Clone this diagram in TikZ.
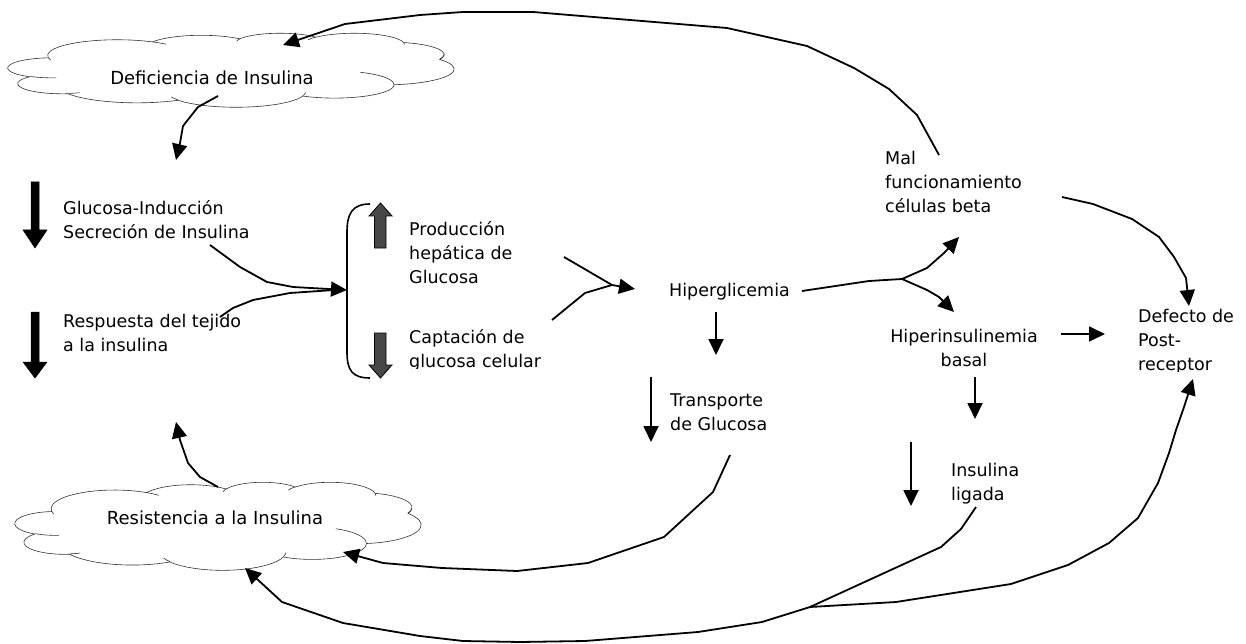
\documentclass[tikz,border=0pt]{standalone}
\usepackage{fontspec}
\setmainfont{DejaVu Sans}
\usetikzlibrary{arrows.meta}
% visual (DrawingML) angle -> parametric arc angles
\newcommand\cloudarcdef[4]{%
  \pgfmathparse{atan2(#1*sin(#3),#2*cos(#3))}\xdef\cAs{\pgfmathresult}%
  \pgfmathparse{atan2(#1*sin(#3+#4),#2*cos(#3+#4))}\xdef\cAe{\pgfmathresult}%
  \pgfmathparse{\cAe-\cAs}\xdef\cAd{\pgfmathresult}%
  \pgfmathparse{\cAd+360*(#4>0)*(\cAd<0)-360*(#4<0)*(\cAd>0)}\xdef\cAd{\pgfmathresult}%
}
\newcommand\carc[4]{\pgfextra{\cloudarcdef{#1}{#2}{#3}{#4}} arc[start angle=\cAs, delta angle=\cAd, x radius=#1, y radius=#2]}
\newcommand\wordcloudshape{%
  \draw[cloudline] (39.00,143.70)
    \carc{67.53}{91.90}{-190.49}{123.78}
    \carc{53.33}{72.67}{-144.10}{89.95}
    \carc{43.65}{59.45}{-145.81}{99.72}
    \carc{48.57}{65.95}{-130.99}{117.24}
    \carc{53.33}{72.73}{-78.71}{109.03}
    \carc{67.75}{92.20}{-46.27}{130.27}
    \carc{57.85}{78.67}{0.625}{114.03}
    \carc{67.52}{92.15}{22.45}{115.17}
    \carc{77.20}{105.43}{66.24}{75.71}
    \carc{43.60}{59.18}{-274.94}{146.74}
    \carc{43.45}{59.45}{-246.83}{152.52} -- cycle;
  \draw[cloudline] (46.93,261.77) \carc{43.45}{59.45}{86.742}{26.430};
  \draw[cloudline] (69.28,348.99) \carc{43.60}{59.18}{73.610}{11.447};
  \draw[cloudline] (164.78,390.90) \carc{67.52}{92.15}{137.624}{14.081};
  \draw[cloudline] (288.27,347.51) \carc{67.52}{92.15}{6.453}{15.998};
  \draw[cloudline] (341.29,229.54) \carc{57.85}{78.67}{-70.292}{70.917};
  \draw[cloudline] (417.98,153.54) \carc{53.33}{72.73}{30.318}{-27.752};
  \draw[cloudline] (383.24,54.26) \carc{48.57}{65.95}{-13.744}{14.853};
  \draw[cloudline] (290.78,39.52) \carc{48.57}{65.95}{-149.181}{18.196};
  \draw[cloudline] (221.41,47.20) \carc{43.65}{59.45}{-163.494}{17.685};
  \draw[cloudline] (140.00,51.92) \carc{67.53}{91.90}{-66.707}{12.319};
  \draw[cloudline] (41.27,157.89) \carc{67.53}{91.90}{157.654}{11.858};
}
\begin{document}
\begin{tikzpicture}[x=1pt,y=-1pt,
  txt/.style={inner sep=0pt, font=\fontsize{17.5}{24}\selectfont, align=left},
  cloudtxt/.style={inner sep=0pt, font=\fontsize{18}{24}\selectfont},
  cloudline/.style={draw=black!80, line width=0.6pt, line join=round},
  conn/.style={line width=1.8pt, line join=round, -{Triangle[length=16pt,width=15pt]}},
  plainln/.style={line width=1.8pt, line join=round},
  blk/.style={fill=black, draw=black, line width=0.5pt},
  gry/.style={fill=black!72, draw=black, line width=0.8pt},
  brk/.style={line width=1.6pt},
]
\useasboundingbox (0,0) rectangle (1246,644);

% clouds
\begin{scope}[shift={(8,33)}, x=446pt/432, y=-74pt/432]
\wordcloudshape
\end{scope}
\begin{scope}[shift={(15,482)}, x=406pt/432, y=-88pt/432]
\wordcloudshape
\end{scope}
\node[cloudtxt, anchor=base] (defic) at (212,85) {Deficiencia de Insulina};
\node[cloudtxt, anchor=base] (resist) at (215,524) {Resistencia a la Insulina};

% texts
\node[txt, anchor=north west] (glucind) at (63,200) {Glucosa-Inducción\\Secreción de Insulina};
\node[txt, anchor=north west] (resp) at (63,314) {Respuesta del tejido\\a la insulina};
\node[txt, anchor=north west] (prod) at (409,221) {Producción\\hepática de\\Glucosa};
\begin{scope}
\clip (400,300) rectangle (560,368);
\node[txt, anchor=north west] (capt) at (409,329) {Captación de\\glucosa celular};
\end{scope}
\node[txt, anchor=base west] (hiperg) at (669,296) {Hiperglicemia};
\node[txt, anchor=north west] (transp) at (670,394) {Transporte\\de Glucosa};
\node[txt, anchor=north west] (mal) at (885,151) {Mal\\funcionamiento\\células beta};
\node[txt, anchor=north, align=center] (hiperins) at (964,329) {Hiperinsulinemia\\basal};
\node[txt, anchor=north west] (insl) at (951,463) {Insulina\\ligada};
\begin{scope}
\clip (1130,290) rectangle (1246,371);
\node[txt, anchor=north west] (defect) at (1138,309) {Defecto de\\Post-\\receptor};
\end{scope}

% block arrows
\draw[blk] (31,182) -- (39,182) -- (39,230) -- (47,230) -- (35,248) -- (23,230) -- (31,230) -- cycle;
\draw[blk] (31,312) -- (39,312) -- (39,362) -- (47,362) -- (35,378) -- (23,362) -- (31,362) -- cycle;
\draw[gry] (374.5,248) -- (386,248) -- (386,216) -- (392,216) -- (380.5,203) -- (369,216) -- (374.5,216) -- cycle;
\draw[gry] (374.5,333) -- (386,333) -- (386,365) -- (392,365) -- (380.5,378) -- (369,365) -- (374.5,365) -- cycle;

% bracket
\draw[brk] (370,204) .. controls (352,204) and (347,214) .. (347,232) -- (347,352) .. controls (347,370) and (352,378) .. (370,378);

% coordinates for connector ends
\coordinate (malTop) at (939,155);
\coordinate (deficIn) at (283,45);
\coordinate (deficOut) at (218,96);
\coordinate (glucIn) at (176,160);
\coordinate (resistOut) at (218,487);
\coordinate (respIn) at (176,422);
\coordinate (glucOut) at (210,245);
\coordinate (respOut) at (220,317);
\coordinate (brkIn) at (347,290);
\coordinate (prodOut) at (564,257);
\coordinate (captOut) at (552,320);
\coordinate (hipergIn) at (635,289);
\coordinate (hipergOut) at (802,291);
\coordinate (fork) at (902,279);
\coordinate (malIn) at (959,237);
\coordinate (hiperinsIn) at (954,312);
\coordinate (malOut) at (1062,197);
\coordinate (defectTop) at (1189,306);
\coordinate (transpOut) at (730,455);
\coordinate (resistIn1) at (343,552);
\coordinate (inslOut) at (976,507);
\coordinate (join) at (810,607);
\coordinate (resistIn2) at (245,568);
\coordinate (defectBot) at (1193,379);

% connectors
\draw[conn] (malTop) -- (917,115) -- (889,89) -- (854,68) -- (807,46) -- (727,28) -- (533,12) -- (463,12) -- (420,15) -- (345,24) -- (deficIn);
\draw[conn] (deficOut) -- (198,107) -- (183,126) -- (180,143) -- (glucIn);
\draw[conn] (resistOut) -- (200,477) -- (188,463) -- (180,440) -- (respIn);
\draw[conn] (glucOut) -- (240,267) -- (267,282) -- (293,287) -- (brkIn);
\draw[plainln] (respOut) -- (233,308) -- (253,300) -- (290,293) -- (334,290);
\draw[conn] (prodOut) -- (612,285) -- (hipergIn);
\draw[plainln] (captOut) -- (585,293) -- (612,285);
\draw[plainln] (hipergOut) -- (869,281) -- (fork);
\draw[conn] (fork) -- (927,268) -- (944,253) -- (malIn);
\draw[conn] (fork) -- (927,290) -- (939,297) -- (hiperinsIn);
\draw[conn] (malOut) -- (1093,204) -- (1132,219) -- (1159,237) -- (1174,257) -- (1186,278) -- (defectTop);
\draw[conn] (transpOut) -- (713,492) -- (664,537) -- (588,563) -- (517,571) -- (442,568) -- (383,563) -- (resistIn1);
\draw[conn] (inslOut) -- (961,529) -- (941,547) -- (join) -- (762,622) -- (698,632) -- (585,641) -- (520,642) -- (463,641) -- (420,636) -- (343,623) -- (282,602) -- (resistIn2);
\draw[conn] (join) -- (896,602) -- (1011,584) -- (1068,565) -- (1109,543) -- (1138,518) -- (1158,483) -- (1169,453) -- (1176,430) -- (1184,407) -- (defectBot);

% straight arrows
\coordinate (a1s) at (716,312); \coordinate (a1e) at (716,355);
\coordinate (a2s) at (651,377); \coordinate (a2e) at (651,442);
\coordinate (a3s) at (975,377); \coordinate (a3e) at (975,419);
\coordinate (a4s) at (911,442); \coordinate (a4e) at (911,506);
\coordinate (a5s) at (1061,334); \coordinate (a5e) at (1105,334);
\draw[conn] (a1s) -- (a1e);
\draw[conn] (a2s) -- (a2e);
\draw[conn] (a3s) -- (a3e);
\draw[conn] (a4s) -- (a4e);
\draw[conn] (a5s) -- (a5e);
\end{tikzpicture}
\end{document}
